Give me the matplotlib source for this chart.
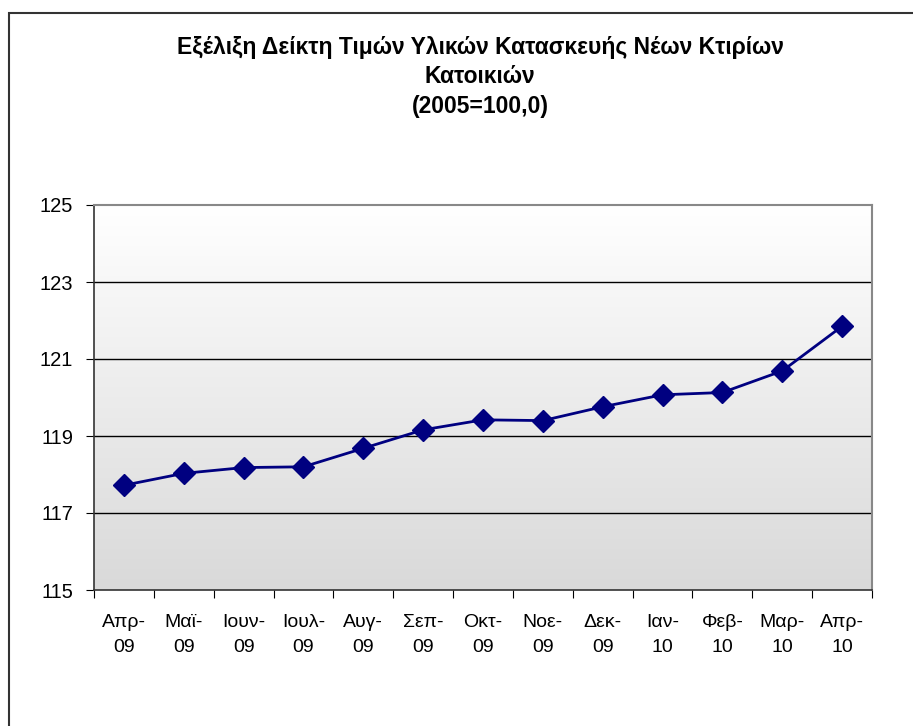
import numpy as np
import matplotlib
matplotlib.use("Agg")
import matplotlib.pyplot as plt
from matplotlib.patches import Rectangle
from matplotlib.colors import LinearSegmentedColormap

plt.rcParams['font.family'] = ['Liberation Sans', 'DejaVu Sans']

categories = ["Απρ-\n09", "Μαϊ-\n09", "Ιουν-\n09", "Ιουλ-\n09", "Αυγ-\n09", "Σεπ-\n09",
              "Οκτ-\n09", "Νοε-\n09", "Δεκ-\n09", "Ιαν-\n10", "Φεβ-\n10", "Μαρ-\n10", "Απρ-\n10"]
values = [117.72, 118.03, 118.18, 118.20, 118.68, 119.16, 119.42, 119.40,
          119.76, 120.07, 120.13, 120.69, 121.85]
y_ticks = [115, 117, 119, 121, 123, 125]
title = "Εξέλιξη Δείκτη Τιμών Υλικών Κατασκευής Νέων Κτιρίων\nΚατοικιών\n(2005=100,0)"

W, H = 913, 726
fig = plt.figure(figsize=(W / 100, H / 100), dpi=100)

# outer frame
fig.patches.append(Rectangle((9 / W, -0.1), 1.2, (1 - 13 / H) + 0.1,
                             transform=fig.transFigure, fill=False,
                             edgecolor='#333333', linewidth=1.5, zorder=0))

ax = fig.add_axes([94 / W, 1 - 590 / H, (872 - 94) / W, (590 - 205) / H])

# gradient background (white at top, grey at bottom)
cmap = LinearSegmentedColormap.from_list('g', ['#ffffff', '#d9d9d9'])
grad = np.linspace(0, 1, 256).reshape(-1, 1)
ax.imshow(grad, aspect='auto', cmap=cmap, extent=[0, 1, 0, 1],
          transform=ax.transAxes, zorder=0)

x = np.arange(len(categories))
ax.set_xlim(-0.5, len(categories) - 0.5)
ax.set_ylim(115, 125)

for yv in y_ticks[1:-1]:
    ax.axhline(yv, color='black', linewidth=1.0, zorder=1)

ax.plot(x, values, color='#000080', linewidth=2.0, marker='D',
        markersize=11.5, markerfacecolor='#000080', markeredgecolor='#000080', zorder=3)

ax.set_yticks(y_ticks)
ax.set_yticklabels([str(v) for v in y_ticks], fontsize=14.5)
ax.set_xticks(np.arange(-0.5, len(categories)), minor=False)
ax.set_xticklabels([])
ax.set_xticks(x, minor=True)
ax.set_xticklabels(categories, minor=True, fontsize=14, linespacing=1.68)
ax.tick_params(axis='x', which='minor', length=0, pad=17)
ax.tick_params(axis='x', which='major', length=6, direction='out', color='black')
ax.tick_params(axis='y', length=6, direction='out', pad=9, color='black')

for s in ['top', 'right']:
    ax.spines[s].set_color('#888888')
    ax.spines[s].set_linewidth(1.5)
for s in ['left', 'bottom']:
    ax.spines[s].set_color('#333333')
    ax.spines[s].set_linewidth(1.2)

fig.text(480 / W, 1 - 36 / H, title, ha='center', va='top', fontsize=16.5,
         fontweight='bold', linespacing=1.36)

fig.savefig('out.png', dpi=100)
